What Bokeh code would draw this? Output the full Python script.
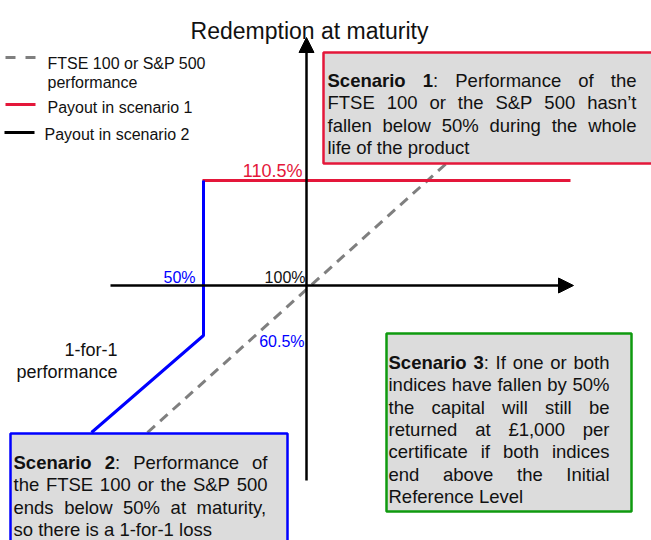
from bokeh.plotting import figure
from bokeh.models import Range1d, Arrow, NormalHead, ColumnDataSource
from bokeh.core.properties import value
from bokeh.embed import file_html
from bokeh.resources import INLINE

# ---------------- data (schematic units, origin = the 100% / 100% crossing) ----------------
title_text = "Redemption at maturity"

legend_lines = [["FTSE 100 or S&P 500", "performance"],
                ["Payout in scenario 1"],
                ["Payout in scenario 2"]]

axis_h_x = [-196, 267]
axis_h_y = [0, 0]
axis_v_x = [0, 0]
axis_v_y = [-195, 248]

underlying_x = [-159, 141]          # FTSE 100 / S&P 500 performance (1-for-1)
underlying_y = [-147, 123]
payout1_x = [-104, 264]             # scenario 1 payout (110.5%)
payout1_y = [105, 105]
payout2_x = [-103, -103, -215]      # scenario 2 payout (barrier at 50%, then 1-for-1)
payout2_y = [105, -50, -147]

level_labels = ["110.5%", "50%", "100%", "60.5%"]
one_for_one_label = ["1-for-1", "performance"]

scenario1_lines = ["Scenario 1: Performance of the",
                   "FTSE 100 or the S&P 500 hasn\u2019t",
                   "fallen below 50% during the whole",
                   "life of the product"]
scenario2_lines = ["Scenario 2: Performance of",
                   "the FTSE 100 or the S&P 500",
                   "ends below 50% at maturity,",
                   "so there is a 1-for-1 loss"]
scenario3_lines = ["Scenario 3: If one or both",
                   "indices have fallen by 50%",
                   "the capital will still be",
                   "returned at \u00a31,000 per",
                   "certificate if both indices",
                   "end above the Initial",
                   "Reference Level"]
bold_prefix = ["Scenario 1", "Scenario 2", "Scenario 3"]

# ---------------- styling ----------------
FONT = "Liberation Sans"
RED = "#e4173a"
BLUE = "#0000ff"
GREEN = "#0f9a0f"
GREY = "#7f7f7f"
FILL = "#dcdcdc"

# Arial / Liberation Sans advance widths (per 1000 em)
_reg = dict(zip("abcdefghijklmnopqrstuvwxyz",
                [556, 556, 500, 556, 556, 278, 556, 556, 222, 222, 500, 222, 833,
                 556, 556, 556, 556, 333, 500, 278, 556, 500, 722, 500, 500, 500]))
_reg.update(dict(zip("ABCDEFGHIJKLMNOPQRSTUVWXYZ",
                     [667, 667, 722, 722, 667, 611, 778, 722, 278, 500, 667, 556, 833,
                      722, 778, 667, 778, 722, 667, 611, 722, 667, 944, 667, 667, 611])))
_reg.update({c: 556 for c in "0123456789"})
_reg.update({" ": 278, "%": 889, "&": 667, "\u2019": 222, ":": 278, ",": 278,
             ".": 278, "-": 333, "\u00a3": 556})
_bold = dict(zip("abcdefghijklmnopqrstuvwxyz",
                 [556, 611, 556, 611, 556, 333, 611, 611, 278, 278, 556, 278, 889,
                  611, 611, 611, 611, 389, 556, 333, 611, 556, 778, 556, 556, 500]))
_bold.update({c: 556 for c in "0123456789"})
_bold.update({"S": 667, " ": 278, ":": 333})


def tw(s, bold, size):
    t = _bold if bold else _reg
    return sum(t.get(c, 556) for c in s) * size / 1000.0


def paragraph(lines, nbold, x0, x1, ybase, step, size):
    reg = dict(x=[], y=[], text=[])
    bld = dict(x=[], y=[], text=[])
    for i, line in enumerate(lines):
        toks = line.split(" ")
        runs_all = []
        pos = 0
        for tok in toks:
            start = pos
            pos += len(tok) + 1
            nb = nbold - start if i == 0 else 0
            nb = max(0, min(len(tok), nb))
            runs = []
            if nb > 0:
                runs.append((tok[:nb], True))
            if nb < len(tok):
                runs.append((tok[nb:], False))
            runs_all.append(runs)
        widths = [sum(tw(s, b, size) for s, b in r) for r in runs_all]
        if i == len(lines) - 1 or len(toks) == 1:
            gap = tw(" ", False, size)
        else:
            gap = (x1 - x0 - sum(widths)) / (len(toks) - 1)
        x = x0
        y = ybase - i * step
        for r, w in zip(runs_all, widths):
            xx = x
            for s, b in r:
                d = bld if b else reg
                d["x"].append(xx)
                d["y"].append(y)
                d["text"].append(s)
                xx += tw(s, b, size)
            x += w + gap
    return reg, bld


p = figure(width=651, height=540, x_range=Range1d(-306, 345), y_range=Range1d(-255, 285),
           toolbar_location=None, output_backend="svg", x_axis_type=None, y_axis_type=None,
           min_border=0, outline_line_color=None, background_fill_color="white")
p.grid.visible = False

# curves
p.line(underlying_x, underlying_y, line_color=GREY, line_width=3, line_dash="10 7")
p.line(payout1_x, payout1_y, line_color=RED, line_width=3)
p.line(payout2_x, payout2_y, line_color=BLUE, line_width=3)

# axes with arrow heads
p.add_layout(Arrow(end=NormalHead(size=15, fill_color="black", line_color="black"),
                   x_start=axis_h_x[0], y_start=axis_h_y[0], x_end=axis_h_x[1], y_end=axis_h_y[1],
                   line_color="black", line_width=2.5))
p.add_layout(Arrow(end=NormalHead(size=15, fill_color="black", line_color="black"),
                   x_start=axis_v_x[0], y_start=axis_v_y[0], x_end=axis_v_x[1], y_end=axis_v_y[1],
                   line_color="black", line_width=2.5))

# scenario boxes
p.quad(left=[17], right=[360], top=[233], bottom=[122], fill_color=FILL, line_color=RED, line_width=2.5)
p.quad(left=[-296], right=[-19], top=[-148], bottom=[-265], fill_color=FILL, line_color=BLUE, line_width=2.5)
p.quad(left=[80], right=[325], top=[-48], bottom=[-226], fill_color=FILL, line_color=GREEN, line_width=2.5)

BOX_SIZE = 18.5
for lines, nb, x0, x1, yb in [(scenario1_lines, len(bold_prefix[0]), 21, 330, 205),
                              (scenario2_lines, len(bold_prefix[1]), -293, -39, -177),
                              (scenario3_lines, len(bold_prefix[2]), 82, 303, -77)]:
    reg, bld = paragraph(lines, nb, x0, x1, yb, 22.3, BOX_SIZE)
    p.text(x="x", y="y", text="text", source=ColumnDataSource(reg), text_font=value(FONT),
           text_font_size=value(f"{BOX_SIZE}px"), text_color="#111111",
           text_align="left", text_baseline="alphabetic")
    p.text(x="x", y="y", text="text", source=ColumnDataSource(bld), text_font=value(FONT),
           text_font_size=value(f"{BOX_SIZE}px"), text_font_style="bold", text_color="#111111",
           text_align="left", text_baseline="alphabetic")

# title
p.text(x=[3], y=[255], text=[title_text], text_font=value(FONT), text_font_size=value("23px"),
       text_color="#111111", text_align="center", text_baseline="alphabetic")

# legend
p.line([-301, -271], [228, 228], line_color=GREY, line_width=3, line_dash="10 10")
p.line([-301, -271], [181, 181], line_color=RED, line_width=3)
p.line([-302, -272], [153, 153], line_color="black", line_width=3)
p.text(x=[-259, -259, -259, -262], y=[222, 203, 178, 151],
       text=[legend_lines[0][0], legend_lines[0][1], legend_lines[1][0], legend_lines[2][0]],
       text_font=value(FONT), text_font_size=value("16px"), text_color="#111111",
       text_align="left", text_baseline="alphabetic")

# level labels
p.text(x=[-4], y=[115], text=[level_labels[0]], text_font=value(FONT), text_font_size=value("18px"),
       text_color=RED, text_align="right", text_baseline="alphabetic")
p.text(x=[-143], y=[8], text=[level_labels[1]], text_font=value(FONT), text_font_size=value("16px"),
       text_color=BLUE, text_align="left", text_baseline="alphabetic")
p.text(x=[-1], y=[8], text=[level_labels[2]], text_font=value(FONT), text_font_size=value("16px"),
       text_color="#111111", text_align="right", text_baseline="alphabetic")
p.text(x=[-2], y=[-56], text=[level_labels[3]], text_font=value(FONT), text_font_size=value("16px"),
       text_color=BLUE, text_align="right", text_baseline="alphabetic")
p.text(x=[-189, -189], y=[-64, -86], text=one_for_one_label, text_font=value(FONT),
       text_font_size=value("18px"), text_color="#111111", text_align="right",
       text_baseline="alphabetic")

open("out.html", "w").write(file_html(p, INLINE))
